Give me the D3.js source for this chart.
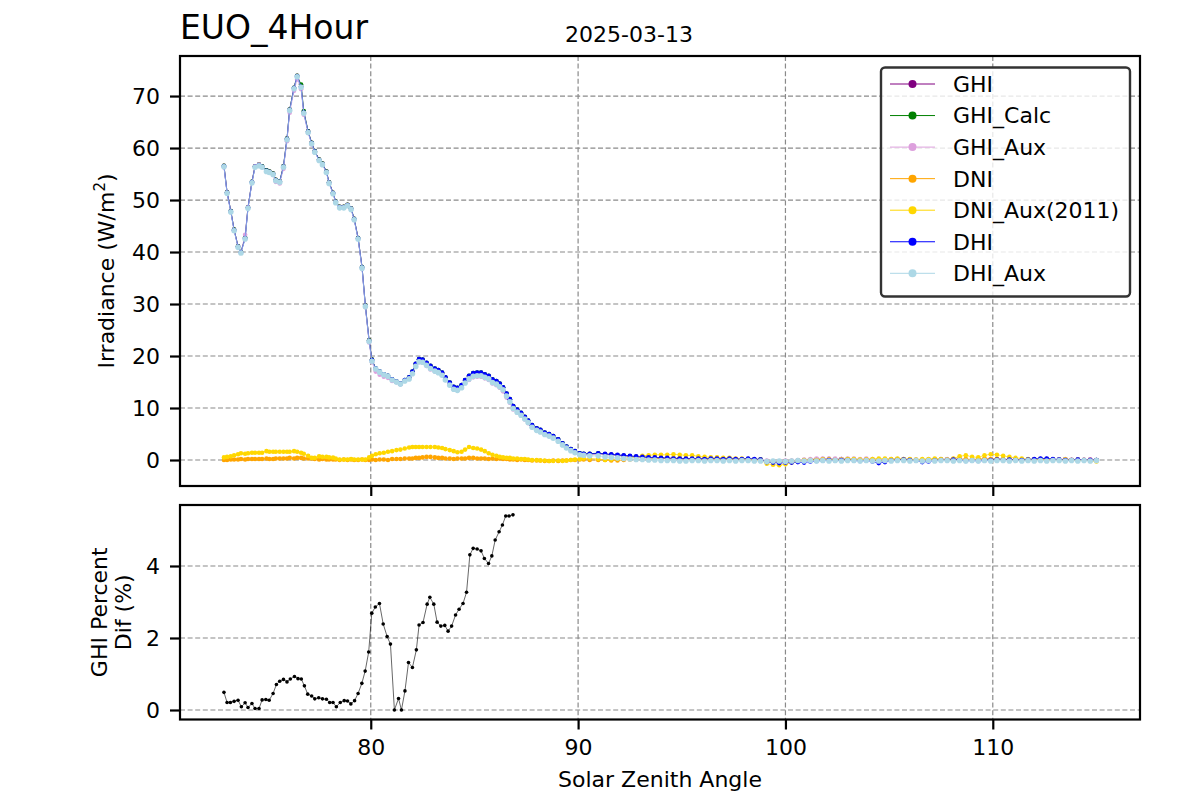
<!DOCTYPE html>
<html>
  <head>
    <meta charset="utf-8">
    <title>EUO_4Hour</title>
    <script src="https://d3js.org/d3.v7.min.js"></script>
    <style>
      body { margin: 0; background: #fff; }
      text { font-family: "DejaVu Sans", sans-serif; fill: #000; }
    </style>
  </head>
  <body>
    <div id="grafica"></div>
    <script>
      // solar zenith angle of each sample (upper panel)
      var sza = [
        72.92, 73.07, 73.25, 73.41, 73.6, 73.74, 73.94, 74.08, 74.27, 74.42,
        74.61, 74.76, 74.97, 75.11, 75.29, 75.42, 75.61, 75.79, 75.96, 76.09,
        76.3, 76.45, 76.64, 76.77, 76.98, 77.15, 77.3, 77.51, 77.67, 77.86,
        77.99, 78.18, 78.31, 78.5, 78.7, 78.88, 79.05, 79.2, 79.39, 79.58,
        79.74, 79.92, 80.06,
        80.24, 80.43, 80.63, 80.83, 81.03, 81.24, 81.43, 81.64, 81.85, 82.01,
        82.17, 82.33, 82.5, 82.69, 82.88, 83.09, 83.26, 83.44, 83.6, 83.81,
        84.0, 84.18, 84.38, 84.55, 84.74, 84.94, 85.13, 85.32, 85.5, 85.69,
        85.87, 86.06, 86.22, 86.38, 86.55, 86.71, 86.87, 87.06, 87.25, 87.43,
        87.59, 87.78, 88.0, 88.18, 88.39, 88.6, 88.8, 89.04, 89.25, 89.44,
        89.65, 89.85, 90.08, 90.27, 90.56, 90.97,
        91.3, 91.6, 91.9, 92.2, 92.5, 92.8, 93.1, 93.4, 93.7, 94.0,
        94.3, 94.6, 94.9, 95.2, 95.5, 95.8, 96.1, 96.4, 96.7, 97.0,
        97.3, 97.6, 97.9, 98.2, 98.5, 98.8, 99.1, 99.4, 99.7, 100.0,
        100.3, 100.6, 100.9, 101.2, 101.5, 101.8, 102.1, 102.4, 102.7, 103.0,
        103.3, 103.6, 103.9, 104.2, 104.5, 104.8, 105.1, 105.4, 105.7, 106.0,
        106.3, 106.6, 106.9, 107.2, 107.5, 107.8, 108.1, 108.4, 108.7, 109.0,
        109.3, 109.6, 109.9, 110.2, 110.5, 110.8, 111.1, 111.4, 111.7, 112.0,
        112.3, 112.6, 112.9, 113.2, 113.5, 113.8, 114.1, 114.4, 114.7, 115.0
      ];

      var ghi = [
        56.6, 51.5, 47.9, 44.3, 41.1, 40.0, 42.7, 48.6, 53.5, 56.5,
        56.8, 56.5, 55.7, 55.5, 55.1, 53.9, 53.6, 56.5, 61.8, 67.4,
        71.6, 73.9, 71.9, 66.9, 63.2, 61.0, 59.4, 57.8, 57.0, 55.5,
        53.4, 51.4, 49.7, 48.7, 48.7, 49.1, 48.4, 46.4, 42.7, 37.1,
        29.7, 23.0, 19.3,
        17.5, 16.9, 16.4, 16.1, 15.4, 15.0, 14.6, 15.3, 15.8, 16.9,
        18.4, 19.3, 19.2, 18.6, 18.0, 17.5, 17.2, 16.7, 15.8, 14.8,
        14.0, 13.8, 14.3, 15.3, 16.1, 16.6, 16.7, 16.7, 16.4, 16.1,
        15.4, 15.1, 14.6, 13.9, 12.7, 11.6, 10.3, 9.6, 9.0, 8.2,
        7.5, 6.6, 6.0, 5.7, 5.2, 4.9, 4.5, 3.9, 3.1, 2.5,
        2.0, 1.6, 1.2, 1.1, 1.1, 1.2,
        1.1, 1.0, 0.9, 0.8, 0.7, 0.6, 0.5, 0.5, 0.4, 0.4,
        0.3, 0.3, 0.3, 0.2, 0.2, 0.2, 0.2, 0.2, 0.2, 0.2,
        0.2, 0.2, 0.1, 0.2, 0.1, 0.1, -0.2, -0.3, -0.3, -0.2,
        -0.2, -0.1, -0.1, 0.0, 0.1, 0.2, 0.2, 0.1, 0.2, 0.1,
        0.1, 0.0, 0.1, 0.0, -0.2, -0.1, 0.0, 0.1, 0.1, 0.1,
        0.0, -0.1, 0.0, 0.1, 0.1, 0.1, 0.2, 0.1, 0.0, 0.1,
        0.0, 0.1, 0.1, 0.2, 0.1, 0.1, 0.1, 0.0, 0.1, 0.1,
        0.2, 0.2, 0.1, 0.1, 0.1, 0.0, 0.1, 0.0, 0.1, 0.0
      ];

      var ghiCalc = [
        56.6, 51.5, 47.9, 44.3, 41.1, 40.0, 42.8, 48.6, 53.5, 56.5,
        56.8, 56.5, 55.7, 55.5, 55.1, 53.9, 53.6, 56.5, 61.8, 67.4,
        71.6, 73.9, 72.2, 67.1, 63.2, 61.0, 59.4, 57.8, 57.0, 55.5,
        53.4, 51.4, 49.7, 48.7, 48.7, 49.1, 48.4, 46.4, 42.7, 37.1,
        29.7, 23.0, 19.3,
        17.6, 17.0, 16.5, 16.2, 15.5, 15.1, 14.7, 15.4, 15.9, 17.0,
        18.5, 19.4, 19.3, 18.7, 18.1, 17.6, 17.3, 16.8, 15.9, 14.9,
        14.1, 13.9, 14.4, 15.4, 16.2, 16.7, 16.8, 16.8, 16.5, 16.2,
        15.5, 15.2, 14.7, 14.0, 12.8, 11.7, 10.4, 9.7, 9.1, 8.3,
        7.6, 6.7, 6.1, 5.8, 5.3, 5.0, 4.6, 4.0, 3.2, 2.6,
        2.1, 1.7, 1.3, 1.2, 1.2, 1.3,
        1.1, 1.0, 0.9, 0.8, 0.7, 0.6, 0.6, 0.5, 0.4, 0.4,
        0.3, 0.3, 0.3, 0.2, 0.2, 0.2, 0.2, 0.2, 0.1, 0.2,
        0.2, 0.1, 0.1, 0.2, 0.1, 0.1, -0.3, -0.3, -0.4, -0.2,
        -0.2, -0.1, -0.1, 0.0, 0.1, 0.1, 0.2, 0.1, 0.1, 0.1,
        0.1, 0.0, 0.0, 0.0, -0.2, -0.1, 0.0, 0.1, 0.1, 0.0,
        0.0, -0.1, 0.0, 0.1, 0.1, 0.1, 0.1, 0.1, 0.0, 0.1,
        0.1, 0.1, 0.1, 0.2, 0.1, 0.1, 0.1, 0.0, 0.1, 0.1,
        0.2, 0.2, 0.1, 0.1, 0.1, 0.0, 0.1, 0.0, 0.0, 0.0
      ];

      var ghiAux = [
        56.3, 51.4, 47.7, 44.2, 41.0, 39.9, 43.3, 48.6, 53.4, 56.5,
        56.8, 56.3, 55.5, 55.3, 54.8, 53.5, 53.2, 56.0, 61.3, 66.8,
        71.0, 73.2, 71.3, 66.4, 62.9, 60.7, 59.2, 57.6, 56.8, 55.3,
        53.3, 51.3, 49.6, 48.6, 48.6, 49.0, 48.3, 46.2, 42.5, 36.8,
        29.4, 22.6, 18.8,
        17.0, 16.4, 16.0, 15.8, 15.2, 15.0, 14.6, 15.2, 15.6, 16.7,
        18.1, 18.8, 18.7, 18.1, 17.4, 17.0, 16.8, 16.3, 15.4, 14.5,
        13.6, 13.4, 13.9, 14.8, 15.4, 15.9, 16.0, 16.0, 15.7, 15.4,
        14.7, 14.4, 13.9, 13.2, 12.0, 11.0, 9.7, 9.1, 8.5, 7.8,
        7.1, 6.3, 5.7, 5.4, 4.9, 4.6, 4.3, 3.7, 2.9, 2.4,
        1.9, 1.5, 1.1, 1.0, 1.0, 1.1,
        1.0, 0.9, 0.8, 0.7, 0.6, 0.5, 0.5, 0.4, 0.4, 0.3,
        0.3, 0.3, 0.2, 0.2, 0.2, 0.2, 0.2, 0.1, 0.2, 0.1,
        0.1, 0.2, 0.1, 0.1, 0.1, 0.0, -0.1, -0.2, -0.2, -0.1,
        -0.1, 0.0, 0.1, 0.2, 0.3, 0.3, 0.3, 0.3, 0.2, 0.3,
        0.3, 0.2, 0.3, 0.2, 0.1, 0.1, 0.2, 0.2, 0.2, 0.1,
        0.1, 0.0, 0.1, 0.1, 0.2, 0.2, 0.2, 0.1, 0.1, 0.1,
        0.1, 0.1, 0.2, 0.2, 0.1, 0.1, 0.1, 0.1, 0.1, 0.1,
        0.2, 0.1, 0.1, 0.1, 0.2, 0.1, 0.1, 0.1, 0.1, 0.0
      ];

      var dni = [
        0.0, 0.0, 0.1, 0.1, 0.1, 0.2, 0.1, 0.2, 0.2, 0.2,
        0.2, 0.2, 0.3, 0.2, 0.2, 0.3, 0.3, 0.3, 0.3, 0.4,
        0.3, 0.4, 0.4, 0.3, 0.3, 0.3, 0.2, 0.1, 0.2, 0.1,
        0.1, 0.1, 0.1, 0.0, 0.1, 0.0, 0.1, 0.0, 0.0, 0.1,
        0.0, 0.0, 0.1,
        0.0, 0.1, 0.1, 0.0, 0.2, 0.2, 0.2, 0.3, 0.3, 0.3,
        0.4, 0.4, 0.5, 0.6, 0.6, 0.5, 0.4, 0.4, 0.3, 0.3,
        0.2, 0.3, 0.3, 0.3, 0.4, 0.4, 0.3, 0.3, 0.3, 0.2,
        0.3, 0.2, 0.3, 0.2, 0.2, 0.1, 0.1, 0.0, 0.1, 0.0,
        0.0, -0.1, -0.1, -0.1, -0.2, -0.2, -0.1, -0.2, -0.1, -0.1,
        0.0, 0.0, 0.1, 0.1, 0.0, 0.0,
        0.0, -0.1, -0.1, 0.0, 0.1, 0.1, 0.2, 0.2, 0.3, 0.3,
        0.3, 0.3, 0.3, 0.2, 0.2, 0.2, 0.2, 0.1, 0.1, 0.1,
        0.1, 0.1, 0.1, 0.0, 0.0, 0.0, -0.3, -0.4, -0.4, -0.3,
        -0.2, -0.1, 0.0, 0.0, 0.0, 0.1, 0.1, 0.0, 0.0, 0.1,
        0.0, 0.0, 0.1, 0.0, 0.0, 0.0, 0.1, 0.1, 0.0, 0.0,
        0.0, 0.0, 0.1, 0.0, 0.1, 0.0, 0.1, 0.2, 0.2, 0.1,
        0.2, 0.3, 0.2, 0.2, 0.1, 0.1, 0.0, 0.0, 0.0, 0.1,
        0.0, 0.1, 0.0, 0.0, 0.1, 0.0, 0.0, 0.0, 0.0, -0.1
      ];

      var dniAux = [
        0.5, 0.6, 0.7, 0.9, 1.1, 1.3, 1.2, 1.3, 1.4, 1.4,
        1.4, 1.4, 1.7, 1.6, 1.6, 1.6, 1.6, 1.6, 1.6, 1.6,
        1.7, 1.6, 1.4, 1.2, 0.8, 0.4, 0.4, 0.7, 0.6, 0.6,
        0.5, 0.45, 0.3, 0.1, 0.1, 0.1, 0.2, 0.1, 0.1, 0.1,
        0.1, 0.5, 0.8,
        1.1, 1.3, 1.4, 1.6, 1.7, 1.9, 2.0, 2.2, 2.4, 2.5,
        2.5, 2.5, 2.5, 2.5, 2.5, 2.5, 2.4, 2.3, 2.1, 1.9,
        1.7, 1.5, 1.6, 2.0, 2.5, 2.3, 2.2, 2.0, 1.7, 1.3,
        1.0, 0.8, 0.6, 0.5, 0.4, 0.4, 0.3, 0.3, 0.2, 0.2,
        0.1, 0.0, 0.0, -0.1, -0.1, -0.2, -0.2, -0.1, -0.2, -0.1,
        0.0, 0.1, 0.2, 0.3, 0.3, 0.2,
        0.0, 0.1, 0.2, 0.3, 0.5, 0.6, 0.8, 0.9, 1.0, 1.0,
        1.0, 1.1, 1.0, 0.9, 0.9, 0.7, 0.6, 0.5, 0.5, 0.4,
        0.4, 0.3, 0.3, 0.2, 0.1, 0.0, -0.7, -0.9, -1.0, -0.8,
        -0.5, -0.3, -0.1, 0.0, 0.0, 0.1, 0.1, 0.0, 0.1, 0.2,
        0.2, 0.1, 0.1, 0.2, 0.3, 0.3, 0.2, 0.3, 0.2, 0.2,
        0.1, 0.2, 0.2, 0.3, 0.2, 0.1, 0.3, 0.7, 0.9, 0.6,
        0.5, 0.9, 1.1, 1.0, 0.8, 0.6, 0.4, 0.3, 0.2, 0.1,
        0.1, 0.0, 0.1, 0.0, 0.1, 0.0, -0.1, 0.0, -0.2, -0.3
      ];

      var dhi = [
        56.5, 51.4, 47.8, 44.2, 41.0, 39.9, 42.6, 48.5, 53.4, 56.4,
        56.7, 56.4, 55.6, 55.4, 55.0, 53.8, 53.5, 56.4, 61.7, 67.3,
        71.5, 73.8, 71.8, 66.8, 63.1, 60.9, 59.3, 57.7, 56.9, 55.4,
        53.3, 51.3, 49.6, 48.6, 48.6, 49.0, 48.3, 46.3, 42.6, 37.0,
        29.6, 22.9, 19.2,
        17.6, 17.0, 16.5, 16.2, 15.5, 15.1, 14.7, 15.4, 15.9, 17.0,
        18.5, 19.4, 19.3, 18.7, 18.1, 17.6, 17.3, 16.8, 15.9, 14.9,
        14.1, 13.9, 14.4, 15.4, 16.2, 16.7, 16.8, 16.8, 16.5, 16.2,
        15.5, 15.2, 14.7, 14.0, 12.8, 11.7, 10.4, 9.7, 9.1, 8.3,
        7.6, 6.7, 6.1, 5.8, 5.3, 5.0, 4.6, 4.0, 3.2, 2.6,
        2.1, 1.7, 1.3, 1.2, 1.2, 1.3,
        1.2, 1.1, 1.0, 0.9, 0.8, 0.7, 0.6, 0.5, 0.5, 0.4,
        0.4, 0.3, 0.3, 0.3, 0.3, 0.3, 0.2, 0.3, 0.3, 0.2,
        0.3, 0.2, 0.2, 0.3, 0.2, 0.1, -0.4, -0.5, -0.6, -0.5,
        -0.5, -0.4, -0.5, -0.3, -0.2, -0.1, 0.0, -0.1, 0.0, 0.0,
        -0.1, -0.2, -0.1, -0.3, -0.6, -0.4, -0.1, 0.0, 0.1, 0.0,
        -0.1, -0.4, -0.3, -0.1, 0.0, 0.0, 0.1, 0.0, -0.2, -0.1,
        -0.2, -0.1, 0.0, 0.1, 0.0, 0.1, 0.0, 0.0, 0.1, 0.2,
        0.3, 0.3, 0.2, 0.1, 0.0, 0.0, 0.1, 0.0, 0.0, 0.0
      ];

      var dhiAux = [
        56.4, 51.3, 47.7, 44.1, 40.9, 39.8, 42.5, 48.4, 53.3, 56.3,
        56.6, 56.3, 55.5, 55.3, 54.9, 53.7, 53.4, 56.3, 61.6, 67.2,
        71.4, 73.7, 71.7, 66.7, 63.0, 60.8, 59.2, 57.6, 56.8, 55.3,
        53.2, 51.2, 49.5, 48.5, 48.5, 48.9, 48.2, 46.2, 42.5, 36.9,
        29.5, 22.8, 19.0,
        17.5, 16.9, 16.4, 16.1, 15.4, 15.0, 14.6, 15.2, 15.6, 16.6,
        18.0, 18.9, 18.8, 18.2, 17.6, 17.1, 16.8, 16.3, 15.4, 14.4,
        13.6, 13.4, 13.9, 14.8, 15.6, 16.1, 16.2, 16.2, 15.9, 15.6,
        14.9, 14.6, 14.1, 13.5, 12.3, 11.2, 9.9, 9.2, 8.6, 7.9,
        7.2, 6.3, 5.7, 5.4, 4.9, 4.6, 4.2, 3.6, 2.9, 2.3,
        1.8, 1.4, 1.0, 0.9, 0.8, 0.8,
        0.6, 0.5, 0.4, 0.3, 0.2, 0.1, 0.1, 0.0, 0.0, -0.1,
        -0.1, -0.1, -0.2, -0.2, -0.1, -0.1, -0.2, -0.1, -0.1, -0.2,
        -0.1, -0.2, -0.1, -0.1, -0.2, -0.2, -0.3, -0.2, -0.2, -0.3,
        -0.2, -0.1, -0.2, -0.1, -0.2, -0.1, -0.2, -0.1, -0.2, -0.1,
        -0.1, -0.2, -0.1, -0.2, -0.2, -0.1, -0.2, -0.1, -0.1, -0.2,
        -0.1, -0.2, -0.1, -0.2, -0.1, -0.1, -0.2, -0.1, -0.2, -0.1,
        -0.2, -0.1, -0.2, -0.1, -0.1, -0.2, -0.1, -0.2, -0.1, -0.2,
        -0.1, -0.2, -0.1, -0.1, -0.2, -0.1, -0.2, -0.1, -0.2, -0.1
      ];

      // lower panel: GHI percent difference
      var pctSza = [
        72.92, 73.07, 73.23, 73.41, 73.6, 73.76, 73.94, 74.08, 74.27, 74.42,
        74.61, 74.76, 74.94, 75.1, 75.29, 75.45, 75.61, 75.79, 75.96, 76.12,
        76.32, 76.49, 76.65, 76.8, 76.96, 77.15, 77.3, 77.49, 77.67, 77.86,
        78.02, 78.18, 78.34, 78.53, 78.72, 78.88, 79.04, 79.22, 79.39, 79.57,
        79.73, 79.9, 80.05, 80.22, 80.42, 80.6, 80.79, 80.95, 81.14, 81.34,
        81.48, 81.65, 81.82, 82.01, 82.2, 82.33, 82.52, 82.72, 82.85, 83.04,
        83.2, 83.38, 83.57, 83.73, 83.9, 84.09, 84.26, 84.45, 84.62, 84.78,
        84.94, 85.13, 85.32, 85.48, 85.68, 85.84, 86.0, 86.19, 86.35, 86.51,
        86.67, 86.86
      ];
      var pctDif = [
        0.49, 0.21, 0.21, 0.24, 0.27, 0.09, 0.2, 0.07, 0.18, 0.04,
        0.04, 0.28, 0.29, 0.27, 0.46, 0.71, 0.8, 0.85, 0.78, 0.86,
        0.93, 0.87, 0.86, 0.67, 0.44, 0.39, 0.31, 0.34, 0.31, 0.3,
        0.21, 0.21, 0.09, 0.21, 0.26, 0.25, 0.17, 0.26, 0.46, 0.74,
        1.08, 1.61, 2.69, 2.86, 2.96, 2.39, 2.04, 1.83, 0.0, 0.32,
        0.0, 0.53, 1.32, 1.18, 1.67, 2.36, 2.43, 2.94, 3.13, 2.94,
        2.44, 2.33, 2.35, 2.19, 2.33, 2.64, 2.8, 2.96, 3.27, 4.31,
        4.49, 4.47, 4.42, 4.21, 4.07, 4.28, 4.72, 4.95, 5.14, 5.39,
        5.39, 5.42
      ];

      var seriesNames = ["GHI", "GHI_Calc", "GHI_Aux", "DNI", "DNI_Aux(2011)", "DHI", "DHI_Aux"];
      var seriesColors = ["#800080", "#008000", "#dda0dd", "#ffa500", "#ffd700", "#0000ff", "#add8e6"];
      var seriesValues = [ghi, ghiCalc, ghiAux, dni, dniAux, dhi, dhiAux];

      var xTicks = [80, 90, 100, 110];
      var yTicksTop = [0, 10, 20, 30, 40, 50, 60, 70];
      var yTicksBottom = [0, 2, 4];

      var left = 180, right = 1140;
      var top1 = 56, bottom1 = 486;
      var top2 = 505, bottom2 = 719.5;

      var svg = d3.select("#grafica").append("svg")
          .attr("width", 1200)
          .attr("height", 800);

      var x = d3.scaleLinear().domain([70.8, 117.1]).range([left, right]);
      var y1 = d3.scaleLinear().domain([-5.0, 77.7]).range([bottom1, top1]);
      var y2 = d3.scaleLinear().domain([-0.264, 5.694]).range([bottom2, top2]);

      function grid(yScale, yTicks, yTop, yBottom) {
        var g = svg.append("g").attr("class", "grid")
            .attr("stroke", "#8a8a8a")
            .attr("stroke-width", 1.2)
            .attr("stroke-dasharray", "5,2.6");
        g.selectAll(".gx").data(xTicks).enter().append("line")
            .attr("x1", function(d) { return x(d); })
            .attr("x2", function(d) { return x(d); })
            .attr("y1", yTop).attr("y2", yBottom);
        g.selectAll(".gy").data(yTicks).enter().append("line")
            .attr("x1", left).attr("x2", right)
            .attr("y1", function(d) { return yScale(d); })
            .attr("y2", function(d) { return yScale(d); });
      }

      function axes(yScale, yTicks, yBottom, showX) {
        var ya = svg.append("g")
            .attr("transform", "translate(" + left + ",0)")
            .call(d3.axisLeft(yScale).tickValues(yTicks).tickSize(10).tickPadding(10)
              .tickFormat(d3.format("d")));
        var xa = svg.append("g")
            .attr("transform", "translate(0," + yBottom + ")")
            .call(d3.axisBottom(x).tickValues(xTicks).tickSize(10).tickPadding(10)
              .tickFormat(showX ? d3.format("d") : function() { return ""; }));
        [ya, xa].forEach(function(a) {
          a.select(".domain").remove();
          a.selectAll(".tick line").attr("stroke", "#000").attr("stroke-width", 2.2);
          a.selectAll(".tick text")
              .attr("font-size", 22)
              .attr("font-family", "DejaVu Sans, sans-serif")
              .attr("fill", "#000");
        });
      }

      // grids first, behind data
      grid(y1, yTicksTop, top1, bottom1);
      grid(y2, yTicksBottom, top2, bottom2);

      // upper panel series
      seriesValues.forEach(function(vals, i) {
        var pts = sza.map(function(s, j) { return [s, vals[j]]; });
        var line = d3.line()
            .x(function(d) { return x(d[0]); })
            .y(function(d) { return y1(d[1]); });
        svg.append("path")
            .datum(pts)
            .attr("fill", "none")
            .attr("stroke", seriesColors[i])
            .attr("stroke-width", 0.7)
            .attr("d", line);
        svg.append("g").selectAll("circle")
            .data(pts)
            .enter().append("circle")
            .attr("cx", function(d) { return x(d[0]); })
            .attr("cy", function(d) { return y1(d[1]); })
            .attr("r", seriesNames[i] == "DHI_Aux" ? 2.8 : 2.3)
            .attr("fill", seriesColors[i]);
      });

      // lower panel
      var pctPts = pctSza.map(function(s, j) { return [s, pctDif[j]]; });
      svg.append("path")
          .datum(pctPts)
          .attr("fill", "none")
          .attr("stroke", "#000")
          .attr("stroke-width", 0.6)
          .attr("d", d3.line()
            .x(function(d) { return x(d[0]); })
            .y(function(d) { return y2(d[1]); }));
      svg.append("g").selectAll("circle")
          .data(pctPts)
          .enter().append("circle")
          .attr("cx", function(d) { return x(d[0]); })
          .attr("cy", function(d) { return y2(d[1]); })
          .attr("r", 1.8)
          .attr("fill", "#000");

      axes(y1, yTicksTop, bottom1, false);
      axes(y2, yTicksBottom, bottom2, true);

      // frames
      svg.append("rect")
          .attr("x", left).attr("y", top1)
          .attr("width", right - left).attr("height", bottom1 - top1)
          .attr("fill", "none").attr("stroke", "#000").attr("stroke-width", 2.2);
      svg.append("rect")
          .attr("x", left).attr("y", top2)
          .attr("width", right - left).attr("height", bottom2 - top2)
          .attr("fill", "none").attr("stroke", "#000").attr("stroke-width", 2.2);

      // legend
      var legend = svg.append("g");
      legend.append("rect")
          .attr("x", 881).attr("y", 67.5)
          .attr("width", 249).attr("height", 229)
          .attr("rx", 4)
          .attr("fill", "#fff").attr("fill-opacity", 0.8)
          .attr("stroke", "#333").attr("stroke-width", 2.4);
      var item = legend.selectAll(".item")
          .data(seriesNames)
          .enter().append("g")
          .attr("transform", function(d, i) { return "translate(0," + (84 + i * 31.55) + ")"; });
      item.append("line")
          .attr("x1", 890).attr("x2", 935)
          .attr("stroke", function(d, i) { return seriesColors[i]; })
          .attr("stroke-width", 1);
      item.append("circle")
          .attr("cx", 912.5).attr("r", 4)
          .attr("fill", function(d, i) { return seriesColors[i]; });
      item.append("text")
          .attr("x", 953)
          .attr("dy", "0.36em")
          .attr("font-size", 22)
          .text(function(d) { return d; });

      // titles and labels
      svg.append("text")
          .attr("x", 180).attr("y", 39)
          .attr("font-size", 33)
          .text("EUO_4Hour");
      svg.append("text")
          .attr("x", 629).attr("y", 42)
          .attr("text-anchor", "middle")
          .attr("font-size", 22)
          .text("2025-03-13");

      var yl = svg.append("text")
          .attr("transform", "translate(114," + ((top1 + bottom1) / 2) + ") rotate(-90)")
          .attr("text-anchor", "middle")
          .attr("font-size", 22);
      yl.append("tspan").text("Irradiance (W/m");
      yl.append("tspan").attr("font-size", 15).attr("dy", -9).text("2");
      yl.append("tspan").attr("dy", 9).text(")");

      var yl2 = svg.append("text")
          .attr("transform", "translate(0," + ((top2 + bottom2) / 2) + ") rotate(-90)")
          .attr("text-anchor", "middle")
          .attr("font-size", 22);
      yl2.append("tspan").attr("x", 0).attr("y", 107).text("GHI Percent");
      yl2.append("tspan").attr("x", 0).attr("y", 131).text("Dif (%)");

      svg.append("text")
          .attr("x", (left + right) / 2).attr("y", 787)
          .attr("text-anchor", "middle")
          .attr("font-size", 22)
          .text("Solar Zenith Angle");
    </script>
  </body>
</html>
